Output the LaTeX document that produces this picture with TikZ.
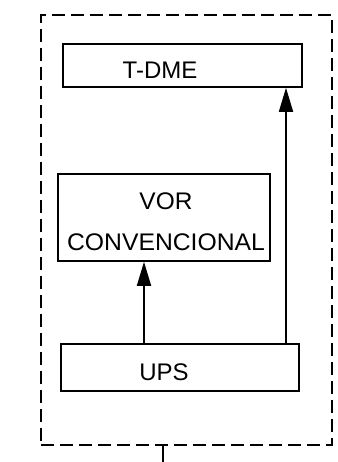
\documentclass[tikz,border=0pt]{standalone}
\usepackage{fontspec}
\setmainfont{Liberation Sans}
\usetikzlibrary{arrows.meta}
\begin{document}
\begin{tikzpicture}[x=1pt,y=-1pt,
  blk/.style={draw,line width=1.8pt,inner sep=0pt,anchor=north west},
  lbl/.style={inner sep=0pt,font=\fontsize{24}{27}\selectfont},
  conn/.style={line width=1.8pt,-{Triangle[length=24pt,width=14pt]}},
  outline/.style={draw,line width=1.8pt,dash pattern=on 13pt off 6pt}]
\useasboundingbox (0,0) rectangle (337,462);
\node[outline,minimum width=291pt,minimum height=430pt,inner sep=0pt,anchor=north west] (frame) at (40,14) {};
\coordinate (stubend) at (163,462);
\draw[line width=1.8pt] (163,444) -- (stubend);
\node[blk,minimum width=239pt,minimum height=43pt] (tdme) at (62,43) {};
\node[blk,minimum width=212pt,minimum height=87pt] (vor) at (57,173) {};
\node[blk,minimum width=238pt,minimum height=47pt] (ups) at (60,343) {};
\node[lbl] (t1) at (160,70) {T-DME};
\node[lbl] (t2) at (166,201) {\scalebox{1.02}[1]{VOR}};
\node[lbl] (t3) at (166,242) {\scalebox{1.03}[1]{CONVENCIONAL}};
\node[lbl] (t4) at (164,372) {UPS};
\draw[conn] (ups.north west -| 144,0) -- (vor.south west -| 144,0);
\draw[conn] (ups.north west -| 286,0) -- (tdme.south west -| 286,0);
\end{tikzpicture}
\end{document}
